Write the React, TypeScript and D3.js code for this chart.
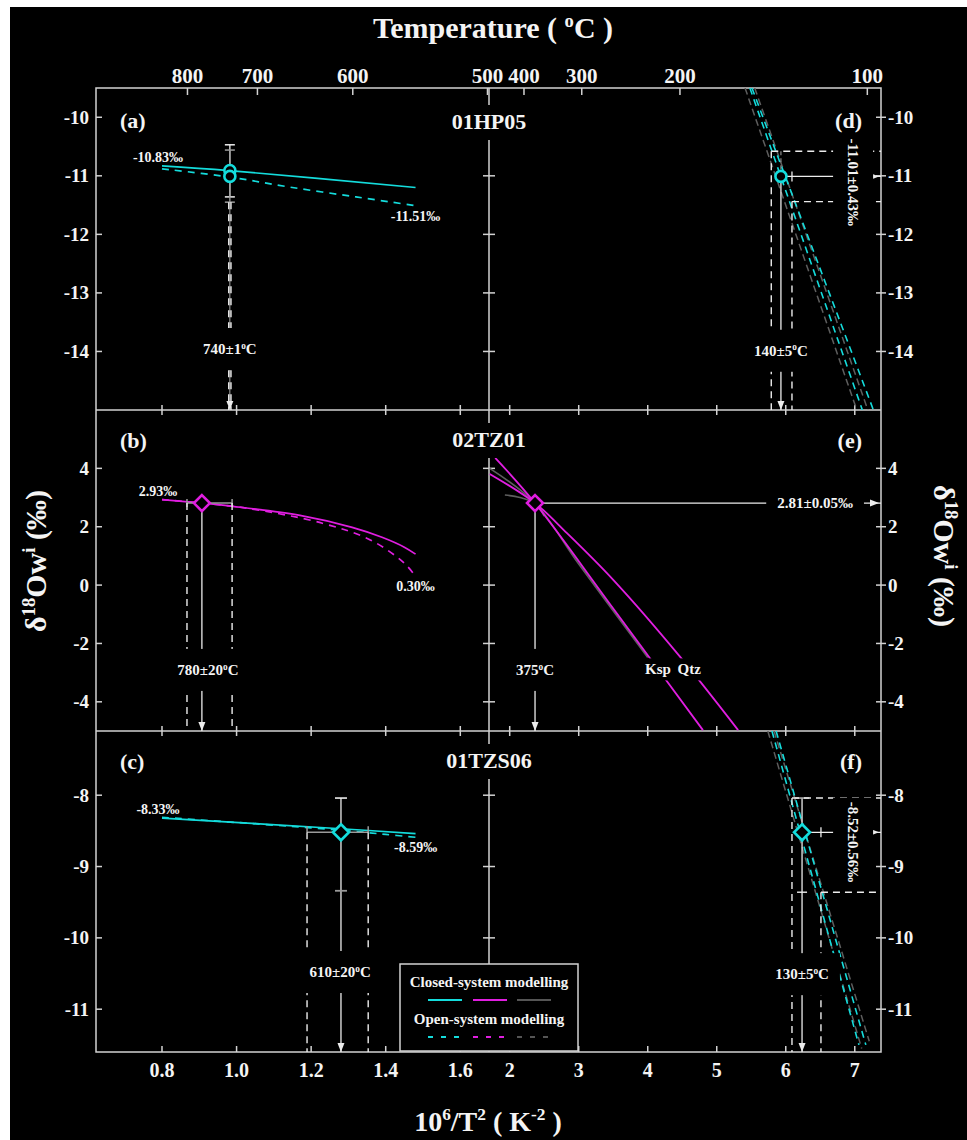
import * as React from "react";
import { useRef, useEffect } from "react";
import * as d3 from "d3";

// tick values
const xTicksLeft = [0.8, 1.0, 1.2, 1.4, 1.6];
const xTicksRight = [2, 3, 4, 5, 6, 7];
const tempTicksLeft = [800, 700, 600, 500];
const tempTicksRight = [400, 300, 200, 100];
const yTicksA = [-10, -11, -12, -13, -14];
const yTicksB = [4, 2, 0, -2, -4];
const yTicksC = [-8, -9, -10, -11];

// modelled fluid d18O curves, [10^6/T^2, permil]
// (a) 01HP05
const aClosed = [[0.8, -10.83], [0.98, -10.91], [1.48, -11.2]];
const aOpen = [[0.8, -10.88], [0.98, -11.02], [1.14, -11.19], [1.32, -11.36], [1.48, -11.51]];
// (b) 02TZ01
const bClosed = [[0.8, 2.93], [0.907, 2.81], [0.99, 2.7], [1.17, 2.39], [1.31, 1.98], [1.39, 1.64], [1.45, 1.3], [1.48, 1.06]];
const bOpen = [[0.8, 2.93], [0.907, 2.81], [1.03, 2.63], [1.23, 2.12], [1.36, 1.54], [1.45, 0.75], [1.48, 0.3]];
// (c) 01TZS06
const cClosed = [[0.8, -8.32], [1.28, -8.47], [1.48, -8.54]];
const cOpen = [[0.8, -8.31], [1.28, -8.49], [1.4, -8.55], [1.48, -8.59]];
// (d) 01HP05, low temperature side
const dCyan1 = [[5.48, -9.5], [7.11, -15.0]];
const dCyan2 = [[5.51, -9.5], [7.27, -15.0]];
const dGrey1 = [[5.41, -9.5], [7.03, -15.0]];
const dGrey2 = [[5.55, -9.5], [7.19, -15.0]];
// (e) 02TZ01 mineral curves
const eKsp = [[1.79, 4.36], [2.367, 2.81], [3.5, -0.8], [4.8, -4.97]];
const eQtz = [[1.71, 3.81], [2.367, 2.81], [2.83, 1.78], [3.5, 0.18], [4.47, -2.46], [5.31, -4.97]];
const eGrey1 = [[1.71, 4.0], [2.367, 2.81], [3.0, 0.72], [4.0, -2.48]];
const eGrey2 = [[1.93, 3.09], [2.15, 3.0], [2.367, 2.81], [2.5, 2.36]];
// (f) 01TZS06, low temperature side
const fCyan1 = [[5.8, -7.1], [7.06, -11.5]];
const fCyan2 = [[5.86, -7.1], [7.16, -11.5]];
const fGrey1 = [[5.74, -7.1], [7.1, -11.55]];
const fGrey2 = [[5.83, -7.1], [7.21, -11.45]];

// estimates: point, temperature bounds (x) and d18O bounds (y)
const aCircles = [[0.982, -10.91], [0.982, -11.01]];
const aErr = [[-10.47, -11.36], [-10.56, -11.45]];
const aTBounds = [0.979, 0.985];
const bDiamond = [0.907, 2.81];
const bTBounds = [0.867, 0.988];
const cDiamond = [1.28, -8.52];
const cTBounds = [1.189, 1.353];
const cErr = [-8.04, -9.34];
const dCircle = [5.93, -11.01];
const dTBounds = [5.79, 6.09];
const dErr = [-10.58, -11.44];
const eDiamond = [2.367, 2.81];
const fDiamond = [6.236, -8.52];
const fTBounds = [6.09, 6.51];
const fErr = [-8.04, -9.36];

const W = 967, H = 1140;
const X0 = 96, XM = 489, X1 = 881;
const Y0 = 88, Y1 = 410, Y2 = 731, Y3 = 1052;
const CYAN = "#14dcdc", MAG = "#e01ee0", GREY = "#5e5e5e", AX = "#d2d2d2", WH = "#ececec";
const FONT = "'Liberation Serif', 'Times New Roman', serif";

const tk = (t) => 1e6 / Math.pow(t + 273.15, 2);

export default function App() {
  const _ref = useRef(null);
  useEffect(() => {
    const svg = d3.select(_ref.current);
    svg.selectAll("*").remove();

    const xL = d3.scaleLinear().domain([0.623, 1.677]).range([X0, XM]);
    const xR = d3.scaleLinear().domain([1.7, 7.38]).range([XM, X1]);
    const yA = d3.scaleLinear().domain([-15.0, -9.5]).range([Y1, Y0]);
    const yB = d3.scaleLinear().domain([-5, 6]).range([Y2, Y1]);
    const yC = d3.scaleLinear().domain([-11.6, -7.1]).range([Y3, Y2]);

    svg.append("rect").attr("x", 10).attr("y", 7).attr("width", W - 10).attr("height", H - 7).attr("fill", "#000");

    const defs = svg.append("defs");
    const clip = (id, xs, ys) => {
      const [a, b] = xs.range();
      const [c, d] = ys.range();
      defs.append("clipPath").attr("id", id).append("rect")
        .attr("x", a).attr("y", d).attr("width", b - a).attr("height", c - d);
      return `url(#${id})`;
    };

    const seg = (g, x1, y1, x2, y2, color = WH, w = 1.3, dash = null) =>
      g.append("line").attr("x1", x1).attr("y1", y1).attr("x2", x2).attr("y2", y2)
        .attr("stroke", color).attr("stroke-width", w).attr("stroke-dasharray", dash);

    const curve = (g, data, xs, ys, color, dash = null, w = 1.7) =>
      g.append("path").datum(data)
        .attr("d", d3.line().x((d) => xs(d[0])).y((d) => ys(d[1])).curve(d3.curveCatmullRom.alpha(0.5)))
        .attr("fill", "none").attr("stroke", color).attr("stroke-width", w).attr("stroke-dasharray", dash);

    const arrowDown = (g, x, y) =>
      g.append("polygon").attr("points", `${x - 3.5},${y - 9} ${x + 3.5},${y - 9} ${x},${y}`).attr("fill", WH);
    const arrowRight = (g, x, y) =>
      g.append("polygon").attr("points", `${x - 9},${y - 3.5} ${x - 9},${y + 3.5} ${x},${y}`).attr("fill", WH);

    // text with superscripts; parts: "plain" or ["sup"]
    const text = (g, x, y, parts, size, opts = {}) => {
      const { anchor = "middle", rotate = 0, bg = null, color = "#f4f4f4" } = opts;
      const grp = g.append("g").attr("transform", `translate(${x},${y}) rotate(${rotate})`);
      const rect = bg ? grp.append("rect").attr("fill", "#000") : null;
      const t = grp.append("text").attr("text-anchor", anchor).attr("font-size", size)
        .attr("font-weight", "bold").attr("font-family", FONT).attr("fill", color);
      let shift = 0;
      parts.forEach((p) => {
        const sup = Array.isArray(p);
        const target = sup ? -0.38 * size : 0;
        t.append("tspan").attr("dy", target - shift).attr("font-size", sup ? size * 0.62 : size).text(sup ? p[0] : p);
        shift = target;
      });
      if (rect) {
        const bb = t.node().getBBox();
        const [pad, across] = bg;
        const cy = bb.y + bb.height / 2;
        rect.attr("x", bb.x - pad).attr("width", bb.width + 2 * pad).attr("y", cy - across / 2).attr("height", across);
      }
      return grp;
    };

    // ---- axes ----
    const ax = svg.append("g");
    ax.append("rect").attr("x", X0).attr("y", Y0).attr("width", X1 - X0).attr("height", Y3 - Y0)
      .attr("fill", "none").attr("stroke", AX).attr("stroke-width", 1.5);
    [Y1, Y2].forEach((y) => seg(ax, X0, y, X1, y, AX, 1.5));
    seg(ax, XM, Y0, XM, Y3, AX, 1.5);

    const xPos = [...xTicksLeft.map((v) => xL(v)), ...xTicksRight.map((v) => xR(v))];
    xPos.forEach((px) => {
      seg(ax, px, Y3, px, Y3 - 6, AX, 1.5);
      [Y1, Y2].forEach((y) => seg(ax, px, y - 5, px, y + 5, AX, 1.5));
    });
    xTicksLeft.forEach((v) => text(ax, xL(v), 1077, [d3.format(".1f")(v)], 20));
    xTicksRight.forEach((v) => text(ax, xR(v), 1077, [String(v)], 20));

    const tPos = [...tempTicksLeft.map((t) => [t, xL(tk(t))]), ...tempTicksRight.map((t) => [t, xR(tk(t))])];
    tPos.forEach(([t, px]) => {
      seg(ax, px, Y0, px, Y0 + 7, AX, 1.5);
      text(ax, px, 83, [String(t)], 21);
    });

    [[yA, yTicksA], [yB, yTicksB], [yC, yTicksC]].forEach(([ys, ticks]) =>
      ticks.forEach((v) => {
        const py = ys(v);
        seg(ax, X0, py, X0 + 6, py, AX, 1.5);
        seg(ax, X1 - 5, py, X1 + 5, py, AX, 1.5);
        seg(ax, XM - 6, py, XM + 6, py, AX, 1.5);
        text(ax, X0 - 7, py + 6.5, [String(v)], 19, { anchor: "end" });
        text(ax, X1 + 7, py + 6.5, [String(v)], 19, { anchor: "start" });
      })
    );

    // ---- modelled curves ----
    const gA = svg.append("g").attr("clip-path", clip("ca", xL, yA));
    curve(gA, aClosed, xL, yA, CYAN);
    curve(gA, aOpen, xL, yA, CYAN, "7,6");
    const gB = svg.append("g").attr("clip-path", clip("cb", xL, yB));
    curve(gB, bClosed, xL, yB, MAG);
    curve(gB, bOpen, xL, yB, MAG, "7,6");
    const gC = svg.append("g").attr("clip-path", clip("cc", xL, yC));
    curve(gC, cClosed, xL, yC, CYAN);
    curve(gC, cOpen, xL, yC, CYAN, "7,6");
    const gD = svg.append("g").attr("clip-path", clip("cd", xR, yA));
    curve(gD, dGrey1, xR, yA, GREY, "7,4", 1.5);
    curve(gD, dGrey2, xR, yA, GREY, "7,4", 1.5);
    curve(gD, dCyan1, xR, yA, CYAN, "7,5", 1.6);
    curve(gD, dCyan2, xR, yA, CYAN, "7,5", 1.6);
    const gE = svg.append("g").attr("clip-path", clip("ce", xR, yB));
    curve(gE, eGrey1, xR, yB, GREY, null, 1.6);
    curve(gE, eGrey2, xR, yB, GREY, null, 1.6);
    curve(gE, eKsp, xR, yB, MAG, null, 1.8);
    curve(gE, eQtz, xR, yB, MAG, null, 1.8);
    const gF = svg.append("g").attr("clip-path", clip("cf", xR, yC));
    curve(gF, fGrey1, xR, yC, GREY, "7,4", 1.5);
    curve(gF, fGrey2, xR, yC, GREY, "7,4", 1.5);
    curve(gF, fCyan1, xR, yC, CYAN, "7,5", 1.6);
    curve(gF, fCyan2, xR, yC, CYAN, "7,5", 1.6);

    // ---- estimate guides ----
    const an = svg.append("g");
    const DASH = "7,5";
    // (a)
    {
      const px = xL(aCircles[0][0]);
      aErr.forEach(([hi, lo], i) => {
        const c = i === 0 ? WH : "#9a9a9a";
        seg(an, px, yA(hi), px, yA(lo), c);
        seg(an, px - 5, yA(hi), px + 5, yA(hi), c, 1.5);
        seg(an, px - 5, yA(lo), px + 5, yA(lo), c, 1.5);
      });
      const top = yA(aErr[1][1]);
      seg(an, px, top, px, Y1, "#a8a8a8", 1);
      aTBounds.forEach((b) => seg(an, xL(b), top, xL(b), Y1, WH, 1.4, DASH));
      arrowDown(an, px, Y1);
    }
    // (b)
    {
      const [bx, by] = [xL(bDiamond[0]), yB(bDiamond[1])];
      seg(an, xL(bTBounds[0]), by, xL(bTBounds[1]), by, "#9a9a9a", 1.5);
      bTBounds.forEach((b) => {
        seg(an, xL(b), by - 4, xL(b), by + 4, "#9a9a9a", 1.5);
        seg(an, xL(b), by, xL(b), Y2, WH, 1.4, DASH);
      });
      seg(an, bx, by, bx, Y2);
      arrowDown(an, bx, Y2);
    }
    // (c)
    {
      const [cx, cy] = [xL(cDiamond[0]), yC(cDiamond[1])];
      seg(an, xL(cTBounds[0]), cy, xL(cTBounds[1]), cy, "#9a9a9a", 1.5);
      cTBounds.forEach((b) => {
        seg(an, xL(b), cy - 6, xL(b), cy, "#9a9a9a", 1.5);
        seg(an, xL(b), cy, xL(b), Y3, WH, 1.4, DASH);
      });
      seg(an, cx, yC(cErr[0]), cx, Y3);
      seg(an, cx - 6, yC(cErr[0]), cx + 6, yC(cErr[0]), WH, 1.6);
      seg(an, cx - 6, yC(cErr[1]), cx + 6, yC(cErr[1]), "#9a9a9a", 1.8);
      arrowDown(an, cx, Y3);
    }
    // (d)
    {
      const [dx, dy] = [xR(dCircle[0]), yA(dCircle[1])];
      seg(an, dx, yA(dErr[0]), dx, dy, "#8a8a8a", 1.2, "4,3");
      seg(an, dx, dy, dx, Y1);
      arrowDown(an, dx, Y1);
      dTBounds.forEach((b, i) => {
        seg(an, xR(b), yA(dErr[i]), xR(b), Y1, WH, 1.4, DASH);
        seg(an, xR(b), yA(dErr[i]), X1, yA(dErr[i]), WH, 1.4, DASH);
      });
      seg(an, dx, dy, X1, dy);
      seg(an, xR(dTBounds[1]), dy - 5, xR(dTBounds[1]), dy + 5, WH, 1.3);
      arrowRight(an, X1 - 2, dy);
    }
    // (e)
    {
      const [ex, ey] = [xR(eDiamond[0]), yB(eDiamond[1])];
      seg(an, ex, ey, X1, ey);
      arrowRight(an, X1 - 2, ey);
      seg(an, ex, ey, ex, Y2);
      arrowDown(an, ex, Y2);
    }
    // (f)
    {
      const [fx, fy] = [xR(fDiamond[0]), yC(fDiamond[1])];
      seg(an, fx, yC(fErr[0]), fx, Y3);
      seg(an, fx - 7, yC(fErr[0]), fx + 7, yC(fErr[0]), "#b0b0b0", 1.6);
      seg(an, fx - 5, yC(fErr[1]), fx + 5, yC(fErr[1]), WH, 1.4);
      arrowDown(an, fx, Y3);
      fTBounds.forEach((b, i) => {
        seg(an, xR(b), yC(fErr[i]), xR(b), Y3, WH, 1.4, DASH);
        seg(an, xR(b), yC(fErr[i]), X1, yC(fErr[i]), WH, 1.4, DASH);
      });
      seg(an, fx, fy, X1, fy);
      seg(an, xR(fTBounds[1]), fy - 5, xR(fTBounds[1]), fy + 5, WH, 1.3);
      arrowRight(an, X1 - 2, fy);
    }

    // ---- labels (black boxes break the guide lines) ----
    const lb = svg.append("g");
    const C = (x, y, parts, xs, ys, size = 15, opts = {}) =>
      text(lb, xs(x), ys(y) + 0.35 * size, parts, size, { bg: [11, 42], ...opts });
    C(0.982, -13.96, ["740±1", ["o"], "C"], xL, yA);
    C(0.923, -2.91, ["780±20", ["o"], "C"], xL, yB);
    C(1.278, -10.48, ["610±20", ["o"], "C"], xL, yC);
    C(5.93, -13.99, ["140±5", ["o"], "C"], xR, yA);
    C(2.367, -2.91, ["375", ["o"], "C"], xR, yB);
    C(6.236, -10.51, ["130±5", ["o"], "C"], xR, yC);
    C(6.425, 2.81, ["2.81±0.05‰"], xR, yB, 15, { bg: [11, 30] });
    C(4.149, -2.88, ["Ksp"], xR, yB, 15, { bg: [2, 22] });
    C(4.6, -2.88, ["Qtz"], xR, yB, 15, { bg: [2, 22] });
    text(lb, xR(6.903), yA(-11.11), ["-11.01±0.43‰"], 15, { rotate: 90, bg: [4, 40] }).select("text").attr("dy", 5);
    text(lb, xR(6.903), yC(-8.656), ["-8.52±0.56‰"], 15, { rotate: 90, bg: [4, 40] }).select("text").attr("dy", 5);

    // curve end values
    const ends = [
      [aClosed[0], aOpen[aOpen.length - 1], "-10.83‰", "-11.51‰", yA],
      [bClosed[0], bOpen[bOpen.length - 1], "2.93‰", "0.30‰", yB],
      [cClosed[0], cOpen[cOpen.length - 1], "-8.33‰", "-8.59‰", yC],
    ];
    ends.forEach(([s, e, ts, te, ys]) => {
      text(lb, xL(s[0]) - 4, ys(s[1]) - 4, [ts], 14);
      text(lb, xL(e[0]), ys(e[1]) + 15, [te], 14);
    });

    // ---- markers ----
    const mk = svg.append("g").attr("fill", "#000").attr("stroke-width", 2.6);
    aCircles.forEach((p) => mk.append("circle").attr("cx", xL(p[0])).attr("cy", yA(p[1])).attr("r", 5.5).attr("stroke", CYAN));
    mk.append("circle").attr("cx", xR(dCircle[0])).attr("cy", yA(dCircle[1])).attr("r", 5.5).attr("stroke", CYAN);
    const diamond = (x, y, color) =>
      mk.append("path").attr("d", `M${x},${y - 8}L${x + 8},${y}L${x},${y + 8}L${x - 8},${y}Z`).attr("stroke", color);
    diamond(xL(bDiamond[0]), yB(bDiamond[1]), MAG);
    diamond(xR(eDiamond[0]), yB(eDiamond[1]), MAG);
    diamond(xL(cDiamond[0]), yC(cDiamond[1]), CYAN);
    diamond(xR(fDiamond[0]), yC(fDiamond[1]), CYAN);

    // ---- panel titles and letters ----
    const tt = svg.append("g");
    [["01HP05", 129], ["02TZ01", 447], ["01TZS06", 768]].forEach(([s, y]) => {
      const g = text(tt, XM, y, [s], 22, { bg: [6, 38] });
      g.select("rect").attr("y", -24).attr("height", 35);
    });
    [["(a)", 128], ["(b)", 448], ["(c)", 769]].forEach(([s, y]) => text(tt, 120, y, [s], 22, { anchor: "start" }));
    [["(d)", 128], ["(e)", 448], ["(f)", 769]].forEach(([s, y]) => text(tt, 862, y, [s], 22, { anchor: "end" }));

    // axis titles
    text(tt, 493, 38, ["Temperature ( ", ["o"], "C )"], 30);
    text(tt, 488, 1131, ["10", ["6"], "/T", ["2"], " ( K", ["-2"], " )"], 28);
    text(tt, 46, 561, ["δ", ["18"], "Ow", ["i"], " (‰)"], 30, { rotate: -90 });
    text(tt, 934, 556, ["δ", ["18"], "Ow", ["i"], " (‰)"], 30, { rotate: 90 });

    // ---- legend ----
    const lg = svg.append("g");
    lg.append("rect").attr("x", 400).attr("y", 964).attr("width", 178).attr("height", 87)
      .attr("fill", "#000").attr("stroke", AX).attr("stroke-width", 1.5);
    text(lg, 489, 987, ["Closed-system modelling"], 15);
    text(lg, 489, 1024, ["Open-system modelling"], 15);
    [[CYAN, 428], [MAG, 473], ["#555", 517]].forEach(([c, x]) => {
      seg(lg, x, 1000, x + 34, 1000, c, 1.8);
      seg(lg, x, 1037, x + 34, 1037, c, 1.8, "5,8");
    });
  }, []);

  return (
    <div style={{ position: "absolute", left: 0, top: 0, width: W, height: H, background: "#fff" }}>
      <svg ref={_ref} width={W} height={H} style={{ display: "block" }}></svg>
    </div>
  );
}
